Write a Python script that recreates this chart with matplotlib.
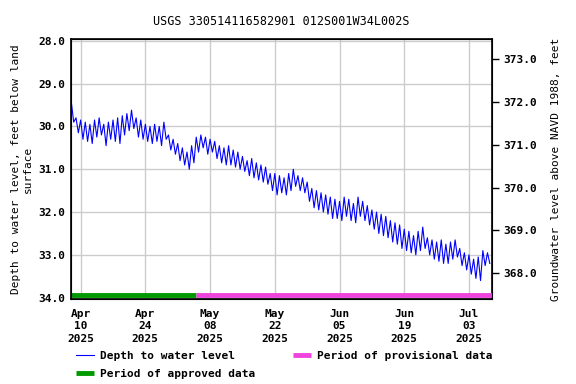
"""
groundwater level plot for USGS site 330514116582901
saves the figure as out.png
"""

import matplotlib
matplotlib.use("Agg")
import matplotlib.pyplot as plt
import numpy as np
import pandas as pd

# daily shallow / deep readings, depth below land surface (feet), from Apr 8 2025
start_day = "2025-04-08"
shallow = [29.45, 29.80, 29.85, 29.90, 29.95, 29.85, 29.80, 29.95, 29.90, 29.85,
           29.80, 29.75, 29.70, 29.62, 29.80, 29.85, 29.95, 30.00, 29.95, 30.00,
           29.90, 30.20, 30.30, 30.40, 30.50, 30.60, 30.45, 30.25, 30.20, 30.25,
           30.30, 30.35, 30.45, 30.50, 30.45, 30.55, 30.60, 30.70, 30.80, 30.75,
           30.85, 30.90, 30.95, 31.10, 31.10, 31.15, 31.20, 31.10, 31.00, 31.15,
           31.20, 31.30, 31.45, 31.50, 31.55, 31.60, 31.65, 31.70, 31.75, 31.65,
           31.70, 31.80, 31.65, 31.75, 31.85, 31.95, 32.00, 32.05, 32.10, 32.20,
           32.25, 32.30, 32.40, 32.45, 32.55, 32.45, 32.35, 32.60, 32.65, 32.70,
           32.65, 32.75, 32.70, 32.65, 32.85, 32.95, 33.00, 33.10, 33.05, 32.90,
           32.95]
deep = [29.90, 30.15, 30.30, 30.35, 30.40, 30.25, 30.20, 30.45, 30.30, 30.35,
        30.40, 30.20, 30.10, 30.05, 30.25, 30.30, 30.35, 30.40, 30.35, 30.45,
        30.30, 30.55, 30.65, 30.80, 30.90, 31.00, 30.85, 30.60, 30.50, 30.65,
        30.60, 30.75, 30.85, 30.90, 30.90, 30.95, 31.00, 31.05, 31.15, 31.20,
        31.25, 31.30, 31.35, 31.50, 31.60, 31.55, 31.60, 31.50, 31.40, 31.50,
        31.55, 31.75, 31.90, 31.95, 32.00, 32.05, 32.15, 32.15, 32.20, 32.10,
        32.20, 32.25, 32.10, 32.20, 32.30, 32.40, 32.50, 32.55, 32.60, 32.70,
        32.75, 32.85, 32.90, 32.95, 33.00, 32.90, 32.85, 33.00, 33.10, 33.15,
        33.20, 33.20, 33.10, 33.05, 33.25, 33.35, 33.45, 33.55, 33.60, 33.25,
        33.20]

approved_start = "2025-04-08"
approved_end = "2025-05-05"
provisional_end = "2025-07-08"

datum = 401.43  # land surface elevation, NAVD 1988

# interleave shallow (midnight) and deep (noon) readings
days = pd.date_range(start_day, periods=len(shallow), freq="D")
t = []
depth = []
for d, s, p in zip(days, shallow, deep):
    t.append(d)
    depth.append(s)
    t.append(d + pd.Timedelta(hours=12))
    depth.append(p)

plt.rcParams.update({
    "font.family": "DejaVu Sans Mono",
    "font.weight": "bold",
    "font.size": 8,
})

fig = plt.figure(figsize=(5.76, 3.84), dpi=100)
ax = fig.add_axes([0.1233, 0.2214, 0.7307, 0.6758])

ax.plot(t, depth, color="#0000ff", lw=0.8, label="Depth to water level", zorder=3)

bar_y = 33.93
ax.plot(pd.to_datetime([approved_start, approved_end]), [bar_y, bar_y],
        color="#009900", lw=3.5, solid_capstyle="butt", label="Period of approved data", zorder=4)
ax.plot(pd.to_datetime([approved_end, provisional_end]), [bar_y, bar_y],
        color="#ee44dd", lw=3.5, solid_capstyle="butt", label="Period of provisional data", zorder=4)

ax.set_ylim(34.03, 27.97)
ax.set_yticks(np.arange(28, 34.5, 1.0))
ax.set_yticklabels([f"{v:.1f}" for v in np.arange(28, 34.5, 1.0)])
ax.set_xlim(pd.Timestamp("2025-04-07 22:00"), pd.Timestamp("2025-07-07 23:00"))

xt = pd.date_range("2025-04-10", "2025-07-03", freq="14D")
ax.set_xticks(xt)
ax.set_xticklabels([d.strftime("%b\n%d\n%Y") for d in xt], linespacing=1.33)

ax.grid(color="#cccccc", lw=1, zorder=0)
ax.tick_params(axis="y", length=0, pad=4)
ax.tick_params(axis="x", length=0, pad=7)
for sp in ax.spines.values():
    sp.set_linewidth(1.2)

ax.set_ylabel("Depth to water level, feet below land\nsurface", labelpad=4)
ax.set_title("USGS 330514116582901 012S001W34L002S", fontsize=8.5, pad=10.5)

# elevation axis on the right
ax2 = ax.twinx()
ax2.set_ylim(datum - 34.03, datum - 27.97)
et = np.arange(368, 373.5, 1.0)
ax2.set_yticks(et)
ax2.set_yticklabels([f"{v:.1f}" for v in et])
ax2.tick_params(axis="y", length=5, width=1, pad=3)
ax2.set_ylabel("Groundwater level above NAVD 1988, feet", labelpad=10)

ax.legend(loc="upper left", bbox_to_anchor=(0.012, -0.2), ncol=2, frameon=False,
          handlelength=1.6, columnspacing=3.4, handletextpad=0.55, labelspacing=0.75,
          borderaxespad=0, borderpad=0, fontsize=8)

fig.savefig("out.png", dpi=100)
